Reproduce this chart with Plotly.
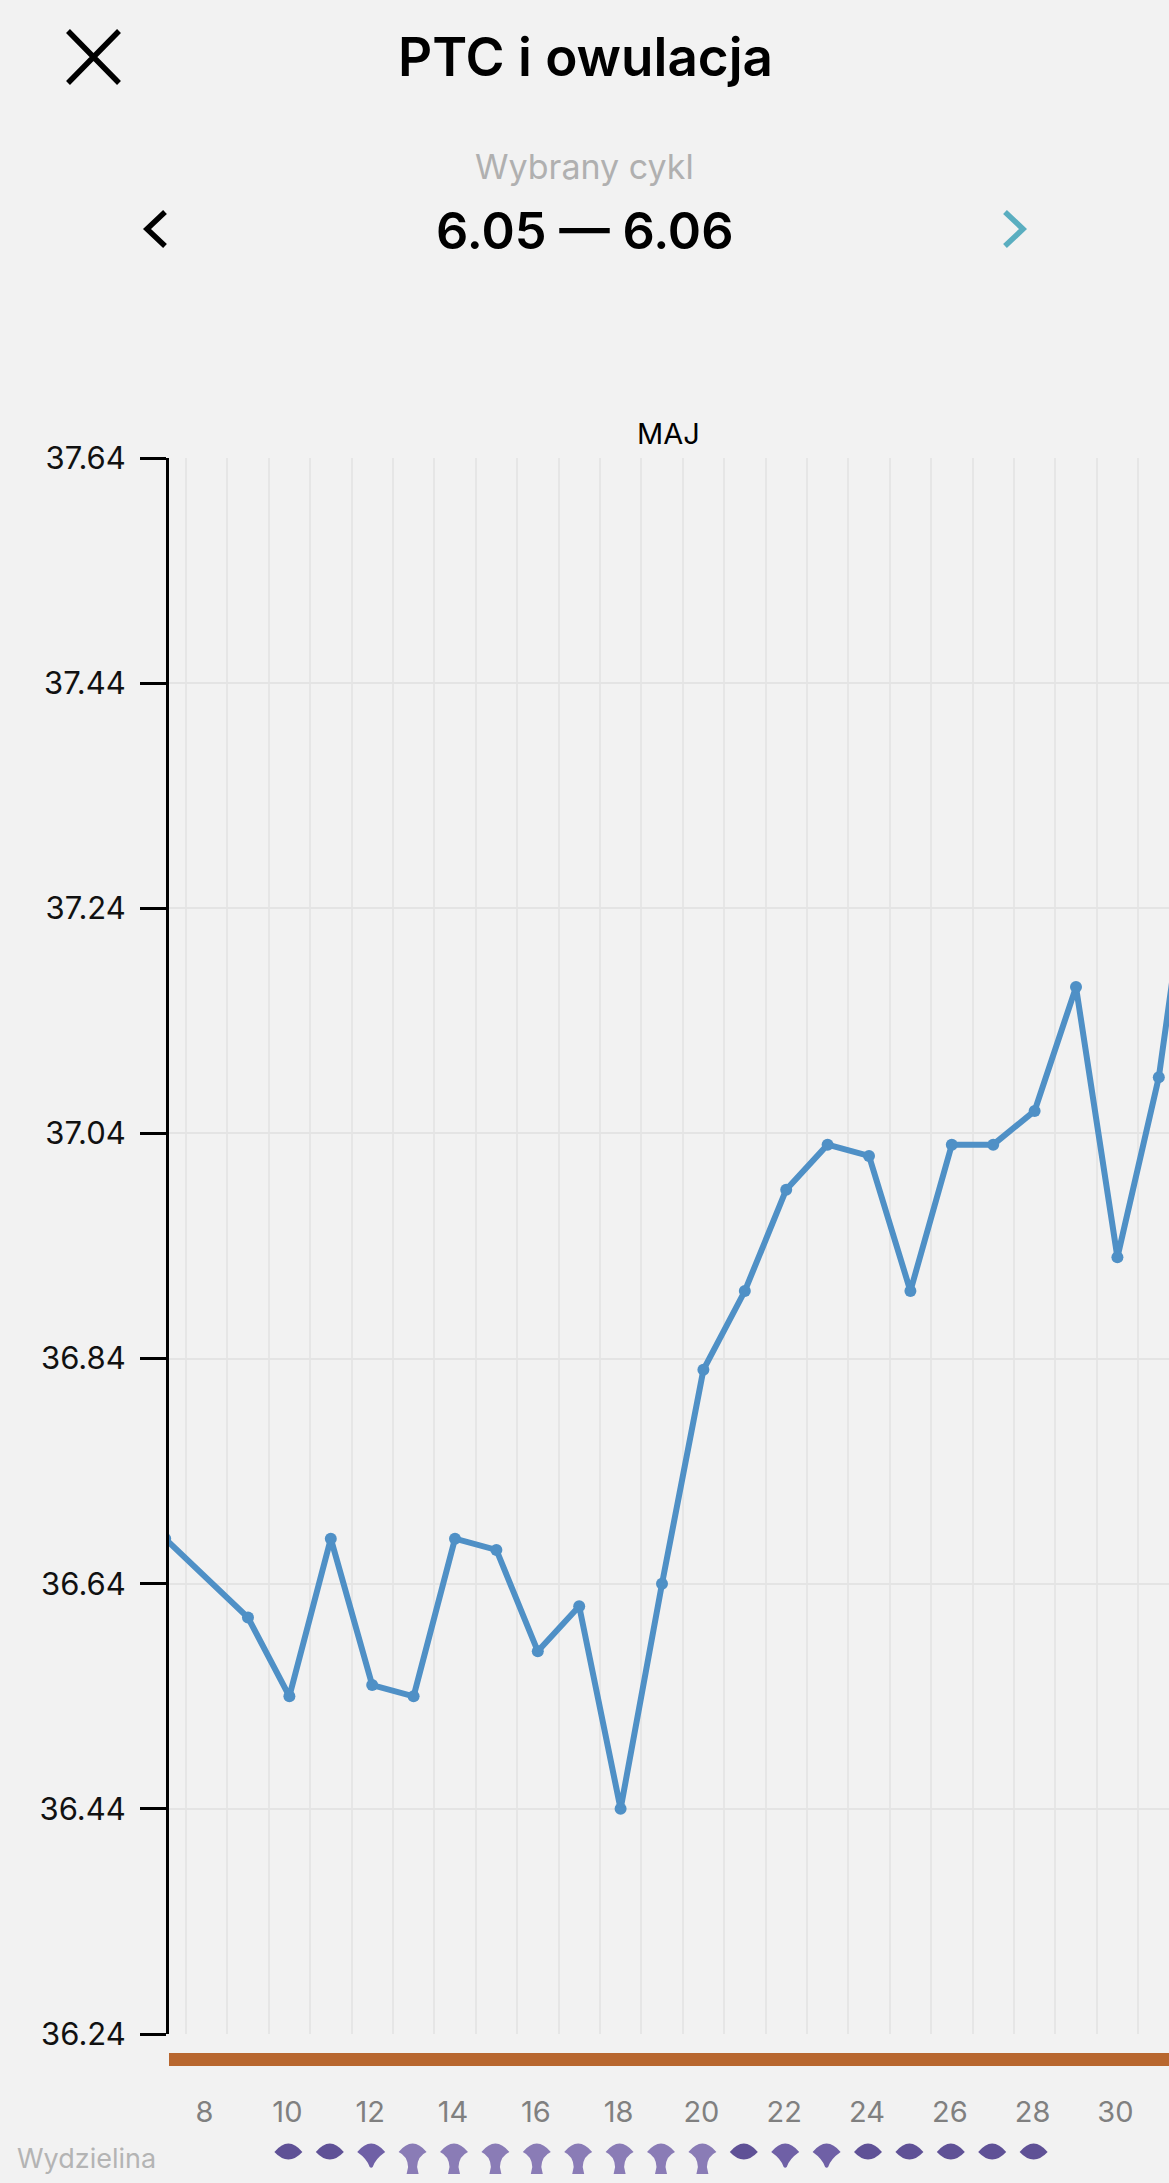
import plotly.graph_objects as go

W, H = 1169, 2183
days = [7, 9, 10, 11, 12, 13, 14, 15, 16, 17, 18, 19, 20, 21, 22, 23, 24, 25, 26, 27, 28, 29, 30, 31, 32]
temps = [36.68, 36.61, 36.54, 36.68, 36.55, 36.54, 36.68, 36.67, 36.58, 36.62, 36.44, 36.64, 36.83,
         36.90, 36.99, 37.03, 37.02, 36.90, 37.03, 37.03, 37.06, 37.17, 36.93, 37.09, 37.354]
y_ticks = [36.24, 36.44, 36.64, 36.84, 37.04, 37.24, 37.44, 37.64]
x_ticks = [8, 10, 12, 14, 16, 18, 20, 22, 24, 26, 28, 30]
grid_days = [7.5 + i for i in range(24)]
discharge_days = list(range(10, 29))
discharge_types = ["lens", "lens", "drop", "stem", "stem", "stem", "stem", "stem", "stem", "stem", "stem",
                   "lens", "drop", "drop", "lens", "lens", "lens", "lens", "lens"]

TOP = "M-15,0 Q-8,8.5 -1,8.5 Q6,8.5 13,0 "
GLYPHS = {
    "lens": (TOP + "Q6,-7.5 -1,-7.5 Q-8,-7.5 -15,0 Z", "#5f5196"),
    "drop": (TOP + "Q3,-7 0.5,-15 Q-1,-16.5 -2.5,-15 Q-5,-7 -15,0 Z", "#6f60a6"),
    "stem": (TOP + "Q4,-4 3.5,-15 L5,-22 L-7,-22 L-5.5,-15 Q-6,-4 -15,0 Z", "#8a7cb6"),
}


def px(x):
    return x / W


def py(y):
    return 1 - y / H


FONT = "Inter, Liberation Sans, sans-serif"
fig = go.Figure()
fig.add_trace(go.Scatter(
    x=days, y=temps, mode="lines+markers",
    line=dict(color="#4f90c6", width=6),
    marker=dict(color="#4f90c6", size=12),
    hoverinfo="skip", showlegend=False,
))

shapes = [
    dict(type="rect", xref="paper", yref="paper", x0=px(169), x1=1, y0=py(2066), y1=py(2053),
         fillcolor="#b8672f", line_width=0),
    dict(type="path", xref="paper", yref="paper",
         path=f"M{px(68)},{py(31)} L{px(119)},{py(83)} M{px(119)},{py(31)} L{px(68)},{py(83)}",
         line=dict(color="#000", width=5.5)),
    dict(type="path", xref="paper", yref="paper",
         path=f"M{px(165)},{py(212)} L{px(147)},{py(229)} L{px(165)},{py(246)}",
         line=dict(color="#000", width=5.5)),
    dict(type="path", xref="paper", yref="paper",
         path=f"M{px(1005)},{py(212)} L{px(1023)},{py(229)} L{px(1005)},{py(246)}",
         line=dict(color="#5aaec0", width=5.5)),
]
for d, t in zip(discharge_days, discharge_types):
    path, colour = GLYPHS[t]
    shapes.append(dict(type="path", xref="x", yref="paper", xsizemode="pixel", ysizemode="pixel",
                       xanchor=d, yanchor=py(2152), path=path, fillcolor=colour, line_width=0))


def label(text, x, y, size, color="#000", weight=None, anchor="center"):
    return dict(text=text, xref="paper", yref="paper", x=px(x), y=py(y), showarrow=False,
                xanchor=anchor, yanchor="middle",
                font=dict(family=FONT, size=size, color=color, weight=weight))


annotations = [
    label("PTC i owulacja", 585, 57, 53, weight=600),
    label("Wybrany cykl", 584.5, 167, 34, color="#b0b0b0"),
    label("6.05 — 6.06", 584.5, 230, 50.5, weight=600),
    label("MAJ", 668, 433, 29),
    label("Wydzielina", 15, 2158, 27, color="#b4b4b4", anchor="left"),
]

fig.update_layout(
    width=W, height=H, margin=dict(l=0, r=0, t=0, b=0),
    paper_bgcolor="#f2f2f2", plot_bgcolor="#f2f2f2",
    shapes=shapes, annotations=annotations, showlegend=False,
    xaxis=dict(
        domain=[px(169), 1], range=[7.092, 31.246], tickmode="array", tickvals=x_ticks, automargin=False,
        ticks="", showgrid=False, zeroline=False, showline=False,
        ticklabelstandoff=58, ticklabelshift=-2,
        tickfont=dict(family=FONT, size=29, color="#808080"),
        minor=dict(tickmode="array", tickvals=grid_days, showgrid=True, gridcolor="#e6e6e6", gridwidth=2, ticks=""),
    ),
    yaxis=dict(
        domain=[py(2034), py(458)], range=[36.24, 37.64], tickmode="array", tickvals=y_ticks, automargin=False,
        tickformat=".2f", ticks="outside", ticklen=26, tickwidth=3, tickcolor="#000",
        showline=True, linecolor="#000", linewidth=3, zeroline=False,
        showgrid=True, gridcolor="#e4e4e4", gridwidth=2, ticklabelstandoff=8,
        tickfont=dict(family=FONT, size=31, color="#111"),
    ),
)
fig.write_html("out.html", config=dict(displayModeBar=False), post_script="document.body.style.margin='0';")
